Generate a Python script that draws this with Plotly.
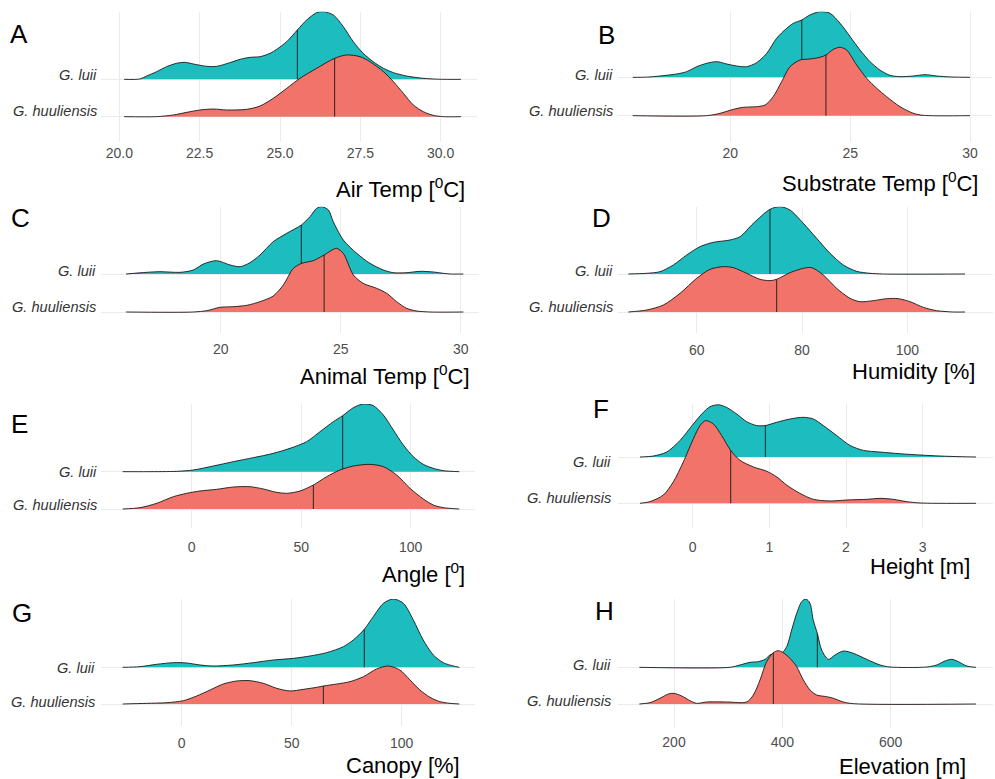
import numpy as np
import plotly.graph_objects as go

W, H = 995, 779

SPECIES = ["G. luii", "G. huuliensis"]
LUII_COLOR = "#1DBCBF"
HUUL_COLOR = "#F17369"

# ---------------- data (x value, ridge height in units of ridge spacing) ----------------
# A  Air Temp
air_luii_x = [20.15, 20.64, 20.85, 21.16, 21.47, 21.78, 22.04, 22.30, 22.72, 23.03, 23.44, 23.76, 24.07, 24.38, 24.69, 24.90,
              25.21, 25.54, 25.83, 26.14, 26.35, 26.66, 26.97, 27.28, 27.59, 27.90, 28.22, 28.53, 28.94, 29.36, 29.77, 30.10, 30.63]
air_luii_h = [0, 0.01, 0.089, 0.205, 0.339, 0.429, 0.455, 0.411, 0.348, 0.348, 0.446, 0.536, 0.589, 0.607, 0.696, 0.804,
              1.009, 1.321, 1.589, 1.786, 1.813, 1.723, 1.411, 1.009, 0.696, 0.473, 0.295, 0.179, 0.089, 0.036, 0.009, 0, 0]
air_huul_x = [20.15, 21.16, 21.68, 22.10, 22.51, 22.93, 23.34, 23.96, 24.38, 24.79, 25.21, 25.62, 26.14, 26.70, 27.07, 27.49,
              27.80, 28.22, 28.53, 28.84, 29.15, 29.46, 29.77, 30.08, 30.63]
air_huul_h = [0, 0, 0.045, 0.116, 0.179, 0.205, 0.179, 0.196, 0.286, 0.491, 0.759, 1.027, 1.295, 1.563, 1.652, 1.607,
              1.473, 1.205, 0.938, 0.625, 0.313, 0.134, 0.036, 0, 0]
air_medians = [25.54, 26.70]
air_ticks = [20, 22.5, 25, 27.5, 30]
air_ticktext = ["20.0", "22.5", "25.0", "27.5", "30.0"]

# B  Substrate Temp
sub_luii_x = [15.93, 16.50, 17.07, 17.76, 18.18, 18.60, 19.01, 19.43, 19.85, 20.26, 20.68, 21.10, 21.52, 21.93, 22.35, 22.63,
              22.98, 23.32, 23.74, 24.16, 24.58, 25.00, 25.41, 25.83, 26.24, 26.66, 27.08, 27.64, 28.12, 28.61, 29.17, 30.0]
sub_luii_h = [0, 0.005, 0.035, 0.087, 0.148, 0.278, 0.365, 0.409, 0.348, 0.296, 0.278, 0.383, 0.626, 1.017, 1.278, 1.409,
              1.496, 1.626, 1.713, 1.670, 1.409, 1.061, 0.713, 0.409, 0.191, 0.052, 0.017, 0.035, 0.070, 0.035, 0.01, 0]
sub_huul_x = [15.93, 19.01, 19.57, 20.13, 20.54, 21.10, 21.45, 21.79, 22.14, 22.49, 22.91, 23.32, 23.74, 23.99, 24.30, 24.58,
              24.85, 25.27, 25.69, 26.11, 26.52, 27.08, 27.64, 28.05, 30.0]
sub_huul_h = [0, 0, 0.061, 0.165, 0.217, 0.235, 0.278, 0.496, 0.887, 1.278, 1.452, 1.478, 1.522, 1.583, 1.730, 1.783,
              1.713, 1.322, 0.974, 0.713, 0.496, 0.235, 0.061, 0.009, 0]
sub_medians = [22.98, 23.99]
sub_ticks = [20, 25, 30]
sub_ticktext = ["20", "25", "30"]

# C  Animal Temp
ani_luii_x = [16.06, 16.92, 17.47, 18.31, 18.86, 19.28, 19.83, 20.39, 20.81, 21.22, 21.64, 22.19, 22.75, 23.36, 23.72, 24.00,
              24.21, 24.49, 24.69, 25.11, 25.67, 26.22, 26.78, 27.19, 27.75, 28.31, 28.86, 29.28, 29.56, 30.11]
ani_luii_h = [0, 0.044, 0.061, 0.044, 0.105, 0.263, 0.351, 0.237, 0.193, 0.298, 0.5, 0.851, 1.070, 1.289, 1.509, 1.728,
              1.772, 1.684, 1.377, 0.895, 0.544, 0.281, 0.105, 0.035, 0.035, 0.070, 0.053, 0.018, 0, 0]
ani_huul_x = [16.06, 18.86, 19.42, 19.97, 20.53, 21.08, 21.64, 22.19, 22.61, 23.03, 23.38, 23.86, 24.31, 24.69, 24.83, 25.11,
              25.53, 25.94, 26.50, 26.92, 27.33, 27.75, 28.17, 28.72, 30.11]
ani_huul_h = [0, 0, 0.035, 0.123, 0.140, 0.175, 0.272, 0.421, 0.711, 1.149, 1.281, 1.351, 1.5, 1.649, 1.675, 1.544,
              0.974, 0.754, 0.623, 0.491, 0.272, 0.096, 0.026, 0, 0]
ani_medians = [23.36, 24.31]
ani_ticks = [20, 25, 30]
ani_ticktext = ["20", "25", "30"]

# D  Humidity
hum_luii_x = [47.03, 50.51, 53.04, 55.57, 58.10, 60.63, 63.16, 66.33, 68.23, 70.76, 73.92, 75.82, 77.72, 80.25, 82.78, 85.32,
              87.85, 90.38, 92.91, 95.44, 110.95]
hum_luii_h = [0, 0.018, 0.061, 0.237, 0.5, 0.719, 0.833, 0.895, 0.982, 1.333, 1.702, 1.772, 1.684, 1.333, 0.939, 0.544,
              0.237, 0.070, 0.018, 0, 0]
hum_huul_x = [47.03, 50.51, 53.67, 56.84, 60.0, 62.53, 65.06, 66.96, 69.49, 72.03, 73.92, 75.19, 77.72, 80.25, 81.84, 84.05,
              86.58, 89.11, 91.01, 93.54, 96.08, 98.29, 100.51, 103.04, 105.57, 108.73, 110.95]
hum_huul_h = [0, 0.053, 0.184, 0.491, 0.886, 1.123, 1.193, 1.167, 1.018, 0.860, 0.825, 0.860, 1.035, 1.149, 1.167, 0.974,
              0.623, 0.360, 0.272, 0.298, 0.351, 0.351, 0.272, 0.123, 0.035, 0, 0]
hum_medians = [73.92, 75.19]
hum_ticks = [60, 80, 100]
hum_ticktext = ["60", "80", "100"]

# E  Angle
ang_luii_x = [-31.5, -20.0, -6.85, 0.76, 9.89, 19.03, 28.16, 37.29, 44.90, 52.51, 58.60, 64.69, 68.95, 73.82, 78.39, 82.95,
              87.52, 92.09, 96.65, 101.22, 105.78, 110.35, 114.92, 122.2]
ang_luii_h = [0, 0, 0.009, 0.045, 0.152, 0.268, 0.375, 0.491, 0.625, 0.804, 1.071, 1.339, 1.5, 1.714, 1.813, 1.768,
              1.518, 1.116, 0.714, 0.402, 0.196, 0.089, 0.027, 0]
ang_huul_x = [-31.5, -23.6, -16.0, -8.37, -2.28, 3.81, 11.42, 19.03, 26.64, 32.72, 38.81, 43.38, 49.47, 55.56, 61.64, 67.73,
              73.82, 81.43, 87.52, 93.61, 99.70, 105.78, 110.35, 114.92, 122.2]
ang_huul_h = [0, 0.036, 0.152, 0.330, 0.420, 0.482, 0.527, 0.589, 0.598, 0.536, 0.446, 0.420, 0.482, 0.643, 0.866, 1.045,
              1.152, 1.196, 1.134, 0.911, 0.554, 0.268, 0.107, 0.036, 0]
ang_medians = [68.95, 55.56]
ang_ticks = [0, 50, 100]
ang_ticktext = ["0", "50", "100"]

# F  Height
hei_luii_x = [-0.687, -0.513, -0.339, -0.165, 0.009, 0.139, 0.226, 0.335, 0.443, 0.574, 0.704, 0.835, 0.948, 1.096, 1.270,
              1.443, 1.574, 1.704, 1.878, 2.052, 2.226, 2.443, 2.704, 2.965, 3.226, 3.487, 3.696]
hei_luii_h = [0, 0.021, 0.107, 0.357, 0.714, 0.964, 1.086, 1.129, 1.071, 0.929, 0.764, 0.679, 0.679, 0.75, 0.821,
              0.857, 0.821, 0.679, 0.464, 0.25, 0.143, 0.107, 0.071, 0.043, 0.021, 0.007, 0]
hei_huul_x = [-0.687, -0.557, -0.383, -0.252, -0.122, 0.009, 0.096, 0.170, 0.270, 0.378, 0.496, 0.617, 0.791, 0.965, 1.096,
              1.226, 1.400, 1.574, 1.791, 2.009, 2.270, 2.443, 2.617, 2.791, 2.965, 3.696]
hei_huul_h = [0, 0.036, 0.179, 0.464, 0.893, 1.393, 1.679, 1.786, 1.714, 1.464, 1.143, 0.929, 0.786, 0.693, 0.571,
              0.393, 0.214, 0.086, 0.05, 0.071, 0.086, 0.107, 0.086, 0.036, 0.007, 0]
hei_medians = [0.948, 0.496]
hei_ticks = [0, 1, 2, 3]
hei_ticktext = ["0", "1", "2", "3"]

# G  Canopy
can_luii_x = [-26.8, -18.9, -11.4, -3.8, 2.27, 8.33, 14.4, 23.5, 32.6, 41.7, 50.8, 58.3, 65.9, 73.5, 78.0, 83.0, 87.1,
              91.7, 96.2, 100.8, 105.3, 109.8, 114.4, 118.9, 123.5, 126.2]
can_luii_h = [0, 0.018, 0.082, 0.127, 0.118, 0.064, 0.036, 0.064, 0.127, 0.2, 0.245, 0.309, 0.4, 0.564, 0.745, 1.036,
              1.382, 1.745, 1.864, 1.745, 1.291, 0.745, 0.336, 0.127, 0.036, 0]
can_huul_x = [-26.8, -15.9, -6.8, 0.76, 6.8, 12.9, 18.9, 25.0, 31.1, 37.1, 43.2, 49.2, 55.3, 61.4, 64.4, 70.5, 76.5,
              82.6, 88.6, 93.9, 99.2, 103.8, 108.3, 112.9, 117.4, 122.0, 126.2]
can_huul_h = [0, 0.018, 0.036, 0.091, 0.218, 0.382, 0.545, 0.627, 0.636, 0.564, 0.427, 0.355, 0.4, 0.455, 0.491, 0.545,
              0.609, 0.745, 0.955, 1.036, 0.927, 0.655, 0.382, 0.182, 0.064, 0.018, 0]
can_medians = [83.0, 64.4]
can_ticks = [0, 50, 100]
can_ticktext = ["0", "50", "100"]

# H  Elevation
ele_luii_x = [136, 303.4, 321.8, 340.3, 355.7, 368.0, 377.2, 386.5, 395.7, 408.0, 417.2, 426.5, 435.7, 443.7, 451.1, 457.0,
              464.6, 472.6, 484.9, 497.2, 512.6, 531.1, 555.7, 580.3, 598.8, 666.5, 684.9, 700.3, 712.6, 724.9, 740.3, 757.5]
ele_luii_h = [0, 0, 0.064, 0.136, 0.155, 0.218, 0.336, 0.382, 0.336, 0.564, 1.018, 1.473, 1.791, 1.864, 1.745, 1.291,
              0.927, 0.473, 0.218, 0.336, 0.445, 0.382, 0.218, 0.064, 0.009, 0.009, 0.064, 0.173, 0.218, 0.155, 0.036, 0]
ele_huul_x = [136, 155.7, 174.2, 189.5, 200, 214.2, 229.5, 241.8, 260.3, 297.2, 334.2, 346.5, 358.8, 371.1, 383.4, 392.6,
              401.8, 414.2, 426.5, 438.8, 451.1, 463.4, 481.8, 494.2, 512.6, 531.1, 757.5]
ele_huul_h = [0, 0.036, 0.155, 0.273, 0.291, 0.218, 0.091, 0.018, 0.055, 0.055, 0.055, 0.245, 0.655, 1.155, 1.4, 1.455,
              1.4, 1.245, 1.018, 0.655, 0.382, 0.245, 0.2, 0.155, 0.055, 0.009, 0]
ele_medians = [464.6, 383.4]
ele_ticks = [200, 400, 600]
ele_ticktext = ["200", "400", "600"]

# ---------------- layout geometry (pixels) ----------------
panels = [
    dict(letter="A", title="Air Temp [<sup>0</sup>C]", data=(air_luii_x, air_luii_h, air_huul_x, air_huul_h, air_medians),
         ticks=(air_ticks, air_ticktext), box=(101, 477, 11.7, 141.7), cal=((20, 119.33), (30, 440.67)),
         bases=(79.33, 116.67), lab_y=(74.7, 111.0), lab_x=99, tick_y=150.3, title_xy=(466.7, 188.3), letter_xy=(18.5, 34)),
    dict(letter="B", title="Substrate Temp [<sup>0</sup>C]", data=(sub_luii_x, sub_luii_h, sub_huul_x, sub_huul_h, sub_medians),
         ticks=(sub_ticks, sub_ticktext), box=(618, 992, 11.7, 141.7), cal=((20, 730.33), (30, 970.0)),
         bases=(77.33, 115.67), lab_y=(75.0, 111.0), lab_x=615, tick_y=151.0, title_xy=(980, 181.7), letter_xy=(606, 35)),
    dict(letter="C", title="Animal Temp [<sup>0</sup>C]", data=(ani_luii_x, ani_luii_h, ani_huul_x, ani_huul_h, ani_medians),
         ticks=(ani_ticks, ani_ticktext), box=(101, 479.3, 206.7, 333.3), cal=((20, 220.67), (30, 460.67)),
         bases=(274.0, 312.0), lab_y=(271.3, 306.7), lab_x=98.3, tick_y=347.3, title_xy=(471.7, 375), letter_xy=(20, 217.5)),
    dict(letter="D", title="Humidity [%]", data=(hum_luii_x, hum_luii_h, hum_huul_x, hum_huul_h, hum_medians),
         ticks=(hum_ticks, hum_ticktext), box=(618, 992.7, 206.7, 333.3), cal=((60, 696.67), (100, 907.33)),
         bases=(274.0, 312.0), lab_y=(271.3, 306.7), lab_x=615, tick_y=348.7, title_xy=(976.7, 371.7), letter_xy=(601, 218)),
    dict(letter="E", title="Angle [<sup>0</sup>]", data=(ang_luii_x, ang_luii_h, ang_huul_x, ang_huul_h, ang_medians),
         ticks=(ang_ticks, ang_ticktext), box=(101, 475, 404, 528.3), cal=((0, 191.67), (100, 410.67)),
         bases=(471.67, 509.0), lab_y=(471.7, 505.5), lab_x=99, tick_y=545.3, title_xy=(466.7, 573.3), letter_xy=(19, 424)),
    dict(letter="F", title="Height [m]", data=(hei_luii_x, hei_luii_h, hei_huul_x, hei_huul_h, hei_medians),
         ticks=(hei_ticks, hei_ticktext), box=(618, 992.7, 404, 528.3), cal=((0, 692.67), (3, 922.67)),
         bases=(457.0, 503.3), lab_y=(461.7, 497.5), lab_x=613.3, tick_y=545.3, title_xy=(971.7, 566.7), letter_xy=(601, 409)),
    dict(letter="G", title="Canopy [%]", data=(can_luii_x, can_luii_h, can_huul_x, can_huul_h, can_medians),
         ticks=(can_ticks, can_ticktext), box=(101, 475, 599, 726), cal=((0, 181.67), (100, 401.67)),
         bases=(667.33, 704.0), lab_y=(667.7, 701.7), lab_x=96.7, tick_y=741, title_xy=(461.7, 765), letter_xy=(22, 613)),
    dict(letter="H", title="Elevation [m]", data=(ele_luii_x, ele_luii_h, ele_huul_x, ele_huul_h, ele_medians),
         ticks=(ele_ticks, ele_ticktext), box=(618, 992.7, 599, 728), cal=((200, 674), (600, 890.67)),
         bases=(667.33, 704.0), lab_y=(665.3, 700.8), lab_x=613.3, tick_y=740, title_xy=(968.3, 766.7), letter_xy=(604, 611)),
]

FONT = "Liberation Sans, Arial, sans-serif"
GRID = "#EBEBEB"
OUTLINE_W = 0.9

fig = go.Figure()
layout = dict(width=W, height=H, autosize=False, margin=dict(l=0, r=0, t=0, b=0, pad=0),
              paper_bgcolor="white", plot_bgcolor="white", showlegend=False,
              font=dict(family=FONT))
annotations = []


def px2paper_x(px):
    return px / W


def px2paper_y(py):
    return 1 - py / H


for i, p in enumerate(panels, start=1):
    xa = "x" if i == 1 else f"x{i}"
    ya = "y" if i == 1 else f"y{i}"
    xkey = "xaxis" if i == 1 else f"xaxis{i}"
    ykey = "yaxis" if i == 1 else f"yaxis{i}"

    left, right, top, bottom = p["box"]
    (v1, p1), (v2, p2) = p["cal"]
    scale = (p2 - p1) / (v2 - v1)
    xr = [v1 + (left - p1) / scale, v1 + (right - p1) / scale]
    pl, ph = p["bases"]
    unit = ph - pl
    yr = [(ph - bottom) / unit, (ph - top) / unit]

    tv, tt = p["ticks"]
    layout[xkey] = dict(domain=[px2paper_x(left), px2paper_x(right)], range=xr, anchor=ya,
                        tickvals=tv, ticktext=tt, showgrid=True, gridcolor=GRID, gridwidth=1,
                        zeroline=False, showline=False, ticks="",
                        tickfont=dict(size=14, color="#4D4D4D", family=FONT),
                        ticklabelstandoff=max(0, int(round(p["tick_y"] - bottom - 8))),
                        fixedrange=True)
    layout[ykey] = dict(domain=[px2paper_y(bottom), px2paper_y(top)], range=yr, anchor=xa,
                        tickvals=[0, 1], showticklabels=False, showgrid=True, gridcolor=GRID, gridwidth=1,
                        zeroline=False, showline=False, ticks="", fixedrange=True)

    lx, lh, hx, hh, meds = p["data"]
    series = [(lx, lh, 1.0, LUII_COLOR, meds[0]), (hx, hh, 0.0, HUUL_COLOR, meds[1])]
    for xs, hs, base, color, med in series:
        xs = np.asarray(xs, dtype=float)
        ys = base + np.asarray(hs, dtype=float)
        fig.add_trace(go.Scatter(x=xs, y=ys, mode="lines", fill="toself", fillcolor=color,
                                 line=dict(width=0, shape="spline", smoothing=0.8, color=color),
                                 hoverinfo="skip", xaxis=xa, yaxis=ya))
        fig.add_trace(go.Scatter(x=xs, y=ys, mode="lines",
                                 line=dict(width=OUTLINE_W, shape="spline", smoothing=0.8, color="#1a1a1a"),
                                 hoverinfo="skip", xaxis=xa, yaxis=ya))
        mh = float(np.interp(med, xs, np.asarray(hs, dtype=float)))
        fig.add_trace(go.Scatter(x=[med, med], y=[base, base + mh], mode="lines",
                                 line=dict(width=OUTLINE_W, color="#1a1a1a"),
                                 hoverinfo="skip", xaxis=xa, yaxis=ya))

    # species labels
    for name, ly in zip(SPECIES, p["lab_y"]):
        annotations.append(dict(text=f"<i>{name}</i>", x=px2paper_x(p["lab_x"]), y=px2paper_y(ly),
                                xref="paper", yref="paper", xanchor="right", yanchor="middle",
                                showarrow=False, font=dict(size=14.6, color="#333333", family=FONT)))
    # axis title
    tx, ty = p["title_xy"]
    annotations.append(dict(text=p["title"], x=px2paper_x(tx), y=px2paper_y(ty), xref="paper", yref="paper",
                            xanchor="right", yanchor="middle", showarrow=False,
                            font=dict(size=22, color="black", family=FONT)))
    # panel letter
    cx, cy = p["letter_xy"]
    annotations.append(dict(text=p["letter"], x=px2paper_x(cx), y=px2paper_y(cy), xref="paper", yref="paper",
                            xanchor="center", yanchor="middle", showarrow=False,
                            font=dict(size=26, color="black", family=FONT)))

layout["annotations"] = annotations
fig.update_layout(**layout)
fig.write_html("out.html", config={"displayModeBar": False, "staticPlot": True},
               post_script="document.body.style.margin='0px';document.body.style.overflow='hidden';")
